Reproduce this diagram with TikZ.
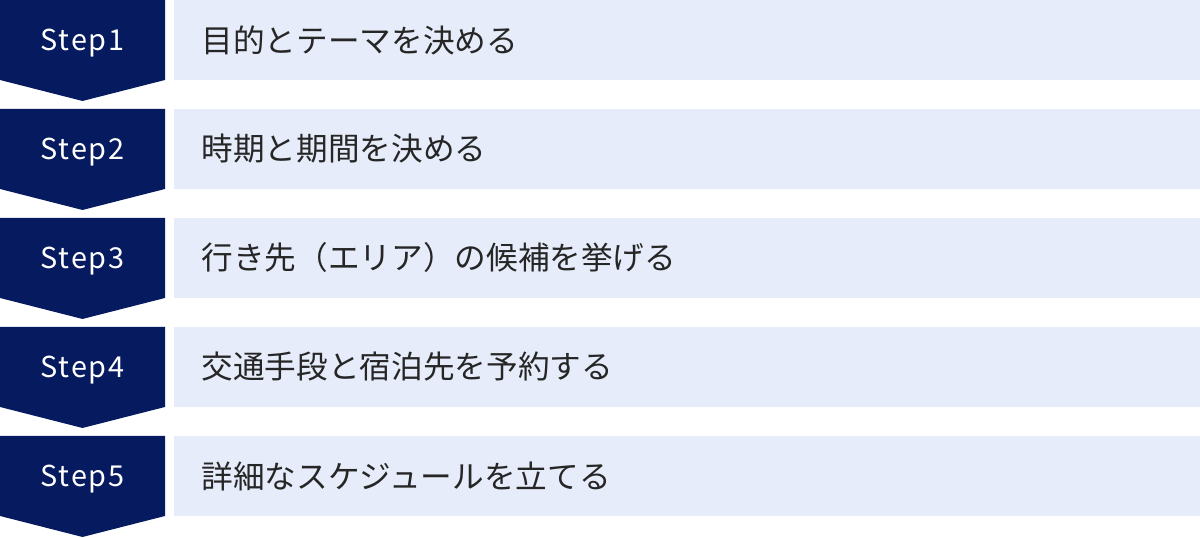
\documentclass[tikz,border=0pt]{standalone}
\usepackage{fontspec}
\setmainfont{Noto Sans CJK JP}
\newfontfamily\stepfont[LetterSpace=7]{Noto Sans CJK JP}
\usepackage{xcolor}
\usepackage{tikz}

\definecolor{stepnavy}{HTML}{061A5F}
\definecolor{barblue}{HTML}{E6ECF9}

\tikzset{
  steplabel/.style={text=white, inner sep=0pt, font=\stepfont\fontsize{8.2}{10}\selectfont},
  tasklabel/.style={text=black!85, inner sep=0pt, anchor=west, font=\fontsize{9.0}{11}\selectfont}
}

\begin{document}
\begin{tikzpicture}
        \useasboundingbox (0,0) rectangle (12,5.38);

        \fill [stepnavy] (0,5.38) -- (1.65,5.38) -- (1.65,4.58) -- (0.825,4.37) -- (0,4.58) -- cycle; %Step1
        \node [steplabel] (s1) at (0.825,4.95) {Step1};                         %
        \fill [barblue]  (1.74,4.58) rectangle (12,5.38);                       %
        \node [tasklabel] (t1) at (2.01,4.98) {目的とテーマを決める};            %

        \fill [stepnavy] (0,4.29) -- (1.65,4.29) -- (1.65,3.49) -- (0.825,3.28) -- (0,3.49) -- cycle; %Step2
        \node [steplabel] (s2) at (0.825,3.86) {Step2};                         %
        \fill [barblue]  (1.74,3.49) rectangle (12,4.29);                       %
        \node [tasklabel] (t2) at (2.01,3.89) {時期と期間を決める};              %

        \fill [stepnavy] (0,3.20) -- (1.65,3.20) -- (1.65,2.40) -- (0.825,2.19) -- (0,2.40) -- cycle; %Step3
        \node [steplabel] (s3) at (0.825,2.77) {Step3};                         %
        \fill [barblue]  (1.74,2.40) rectangle (12,3.20);                       %
        \node [tasklabel] (t3) at (2.01,2.80) {行き先（エリア）の候補を挙げる};  %

        \fill [stepnavy] (0,2.11) -- (1.65,2.11) -- (1.65,1.31) -- (0.825,1.10) -- (0,1.31) -- cycle; %Step4
        \node [steplabel] (s4) at (0.825,1.68) {Step4};                         %
        \fill [barblue]  (1.74,1.31) rectangle (12,2.11);                       %
        \node [tasklabel] (t4) at (2.01,1.71) {交通手段と宿泊先を予約する};      %

        \fill [stepnavy] (0,1.02) -- (1.65,1.02) -- (1.65,0.22) -- (0.825,0.01) -- (0,0.22) -- cycle; %Step5
        \node [steplabel] (s5) at (0.825,0.59) {Step5};                         %
        \fill [barblue]  (1.74,0.22) rectangle (12,1.02);                       %
        \node [tasklabel] (t5) at (2.01,0.62) {詳細なスケジュールを立てる};      %
\end{tikzpicture}
\end{document}
